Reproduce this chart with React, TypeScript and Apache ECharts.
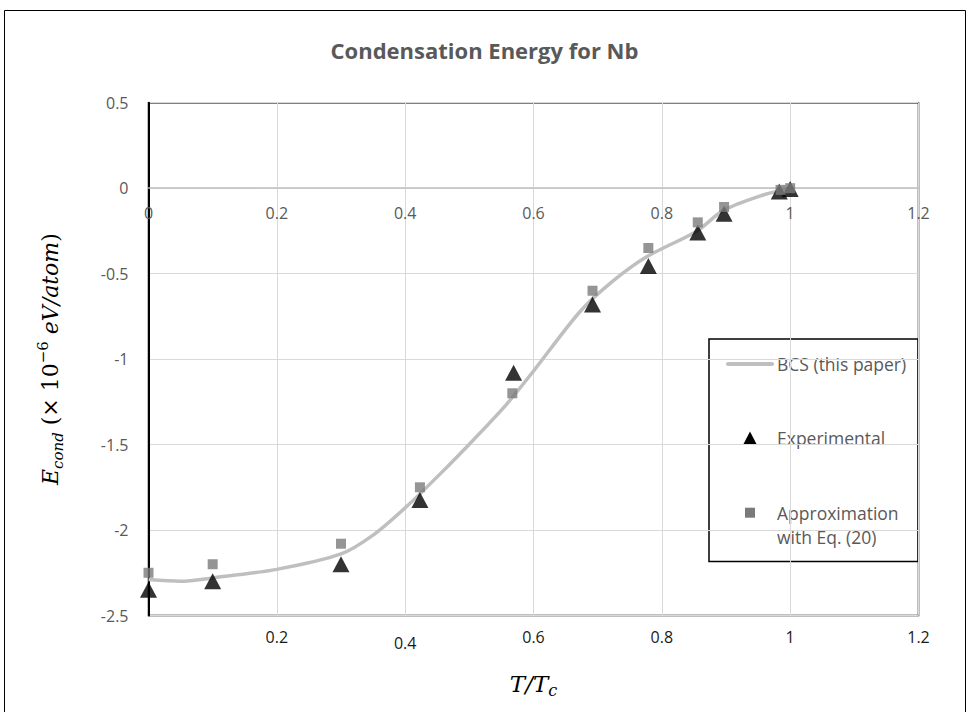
import React, { useEffect, useRef } from "react";
import * as echarts from "echarts";

// Reduced temperature ticks and energy ticks
const xTickValues = [0, 0.2, 0.4, 0.6, 0.8, 1, 1.2];
const yTickValues = [0.5, 0, -0.5, -1, -1.5, -2, -2.5];

// BCS curve (this paper): [T/Tc, E_cond]
const bcsCurve: [number, number][] = [
  [0, -2.29], [0.05, -2.3], [0.1, -2.28], [0.2, -2.23], [0.3, -2.14],
  [0.35, -2.03], [0.4, -1.87], [0.455, -1.67], [0.507, -1.47], [0.559, -1.26],
  [0.6, -1.07], [0.673, -0.72], [0.725, -0.54], [0.777, -0.4],
  [0.855, -0.25], [0.896, -0.13], [0.958, -0.04], [1.0, 0],
];

// Experimental condensation energies
const experimental: [number, number][] = [
  [0, -2.35], [0.1, -2.3], [0.3, -2.2], [0.423, -1.825], [0.569, -1.08],
  [0.692, -0.68], [0.779, -0.455], [0.856, -0.26], [0.897, -0.15],
  [0.983, -0.02], [1.0, -0.005],
];

// Approximation with Eq. (20)
const approximation: [number, number][] = [
  [0, -2.25], [0.1, -2.2], [0.3, -2.08], [0.423, -1.75], [0.567, -1.2],
  [0.692, -0.6], [0.779, -0.35], [0.856, -0.2], [0.897, -0.11],
  [0.985, -0.01], [1.0, 0],
];

const seriesNames = ["BCS (this paper)", "Experimental", "Approximation\nwith Eq. (20)"];

const GRAY_TEXT = "#595959";
const FONT = "'Open Sans', sans-serif";
const MATH_FONT = "'DejaVu Serif', serif";

const CHART_H = 712;
const GRID = { left: 148.5, right: 50.5, top: 102.7, bottom: 96.5 };
const Y_MIN = -2.5;
const Y_MAX = 0.5;

export default function App() {
  const ref = useRef<HTMLDivElement>(null);

  useEffect(() => {
    if (!ref.current) return;
    const chart = echarts.init(ref.current, undefined, { renderer: "svg" });

    const fmt = (v: number) => {
      const hit = xTickValues.find((t) => Math.abs(t - v) < 1e-9);
      return hit === undefined ? "" : String(hit);
    };

    // lift the crossing axis from the bottom edge up to E = 0
    const plotH = CHART_H - GRID.top - GRID.bottom;
    const zeroOffset = -plotH * ((0 - Y_MIN) / (Y_MAX - Y_MIN));

    const legendX = 709;
    const legendY = 339;
    const legendFont = 17.5;

    chart.setOption({
      animation: false,
      backgroundColor: "#fff",
      title: {
        text: "Condensation Energy for Nb",
        left: "center",
        top: 34,
        textStyle: { fontFamily: FONT, fontSize: 22, fontWeight: "bold", color: GRAY_TEXT },
      },
      grid: {
        ...GRID,
        show: true,
        borderColor: "#000",
        borderWidth: 1.5,
        backgroundColor: "transparent",
      },
      xAxis: [
        {
          // labels along the bottom edge of the plot
          type: "value",
          position: "bottom",
          min: 0,
          max: 1.2,
          interval: 0.2,
          axisLine: { show: false, onZero: false },
          axisTick: { show: false },
          splitLine: { show: true, lineStyle: { color: "#d9d9d9", width: 1 } },
          axisLabel: {
            margin: 13,
            color: "#1a1a1a",
            fontFamily: FONT,
            fontSize: 16,
            formatter: (v: number) => {
              if (Math.abs(v) < 1e-9) return "";
              const s = fmt(v);
              return Math.abs(v - 0.4) < 1e-9 ? "{low|" + s + "}" : s;
            },
            rich: { low: { padding: [6, 0, 0, 0], fontFamily: FONT, fontSize: 16, color: "#1a1a1a" } },
          },
          name: "{t|T/T}{c|c}",
          nameLocation: "middle",
          nameGap: 53,
          nameTextStyle: {
            rich: {
              t: { fontFamily: MATH_FONT, fontStyle: "italic", fontSize: 23, color: "#000", lineHeight: 30 },
              c: { fontFamily: MATH_FONT, fontStyle: "italic", fontSize: 16, color: "#000", lineHeight: 17, verticalAlign: "bottom" },
            },
          },
        },
        {
          // axis line crossing at E = 0, labelled just below it
          type: "value",
          position: "bottom",
          offset: zeroOffset,
          min: 0,
          max: 1.2,
          interval: 0.2,
          axisLine: { show: true, onZero: false, lineStyle: { color: "#bfbfbf", width: 1.5 } },
          axisTick: { show: false },
          splitLine: { show: false },
          axisLabel: {
            margin: 17,
            color: GRAY_TEXT,
            fontFamily: FONT,
            fontSize: 16,
            showMinLabel: true,
            showMaxLabel: true,
            formatter: (v: number) => fmt(v),
          },
          z: 3,
        },
      ],
      yAxis: {
        type: "value",
        min: Y_MIN,
        max: Y_MAX,
        interval: 0.5,
        axisLine: { show: true, onZero: false, lineStyle: { color: "#000", width: 2 } },
        axisTick: { show: false },
        splitLine: { show: true, lineStyle: { color: "#d9d9d9", width: 1 } },
        axisLabel: {
          margin: 20,
          color: GRAY_TEXT,
          fontFamily: FONT,
          fontSize: 16,
          formatter: (v: number) => {
            const hit = yTickValues.find((t) => Math.abs(t - v) < 1e-9);
            return hit === undefined ? "" : String(hit);
          },
        },
        name: "{i|E}{sub|cond}{n| (× 10}{sup|−6}{i| eV/atom}{n|)}",
        nameLocation: "middle",
        nameRotate: 90,
        nameGap: 83,
        nameTextStyle: {
          rich: {
            i: { fontFamily: MATH_FONT, fontStyle: "italic", fontSize: 22, color: "#000", lineHeight: 30 },
            n: { fontFamily: MATH_FONT, fontSize: 22, color: "#000", lineHeight: 30 },
            sub: { fontFamily: MATH_FONT, fontStyle: "italic", fontSize: 15, color: "#000", lineHeight: 17, verticalAlign: "bottom" },
            sup: { fontFamily: MATH_FONT, fontSize: 15, color: "#000", lineHeight: 17, verticalAlign: "top" },
          },
        },
      },
      series: [
        {
          name: seriesNames[0],
          type: "line",
          xAxisIndex: 0,
          data: bcsCurve,
          smooth: 0.3,
          symbol: "none",
          lineStyle: { color: "#bfbfbf", width: 3.5 },
          z: 2,
        },
        {
          name: seriesNames[1],
          type: "scatter",
          xAxisIndex: 0,
          data: experimental,
          symbol: "triangle",
          symbolSize: [17, 16],
          itemStyle: { color: "#000" },
          z: 3,
        },
        {
          name: seriesNames[2],
          type: "scatter",
          xAxisIndex: 0,
          data: approximation,
          symbol: "rect",
          symbolSize: 10,
          itemStyle: { color: "#7a7a7a" },
          z: 4,
        },
      ],
      graphic: [
        // chart frame
        {
          type: "rect",
          shape: { x: 4.5, y: 10.5, width: 961, height: 720 },
          style: { fill: "none", stroke: "#000", lineWidth: 1 },
          silent: true,
          z: 0,
        },
        // legend box
        {
          type: "group",
          z: 10,
          children: [
            {
              type: "rect",
              shape: { x: legendX, y: legendY, width: 209, height: 222.5 },
              style: { fill: "none", stroke: "#000", lineWidth: 1.5 },
            },
            {
              type: "line",
              shape: { x1: 728, y1: 364, x2: 772, y2: 364 },
              style: { stroke: "#bfbfbf", lineWidth: 4, lineCap: "round" },
            },
            {
              type: "text",
              x: 777,
              y: 364,
              style: { text: seriesNames[0], fontFamily: FONT, fontSize: legendFont, fill: GRAY_TEXT, verticalAlign: "middle" },
            },
            {
              type: "polygon",
              shape: { points: [[750, 431.5], [757, 445], [743, 445]] },
              style: { fill: "#000" },
            },
            {
              type: "text",
              x: 777,
              y: 438,
              style: { text: seriesNames[1], fontFamily: FONT, fontSize: legendFont, fill: GRAY_TEXT, verticalAlign: "middle" },
            },
            {
              type: "rect",
              shape: { x: 745, y: 507.7, width: 10, height: 10 },
              style: { fill: "#7a7a7a" },
            },
            {
              type: "text",
              x: 777,
              y: 500.4,
              style: { text: seriesNames[2], fontFamily: FONT, fontSize: legendFont, fill: GRAY_TEXT, verticalAlign: "top", lineHeight: 24.6 },
            },
          ],
        },
      ],
    });

    return () => chart.dispose();
  }, []);

  return (
    <div
      ref={ref}
      style={{ position: "absolute", left: 0, top: 0, width: 969, height: 712 }}
    />
  );
}
